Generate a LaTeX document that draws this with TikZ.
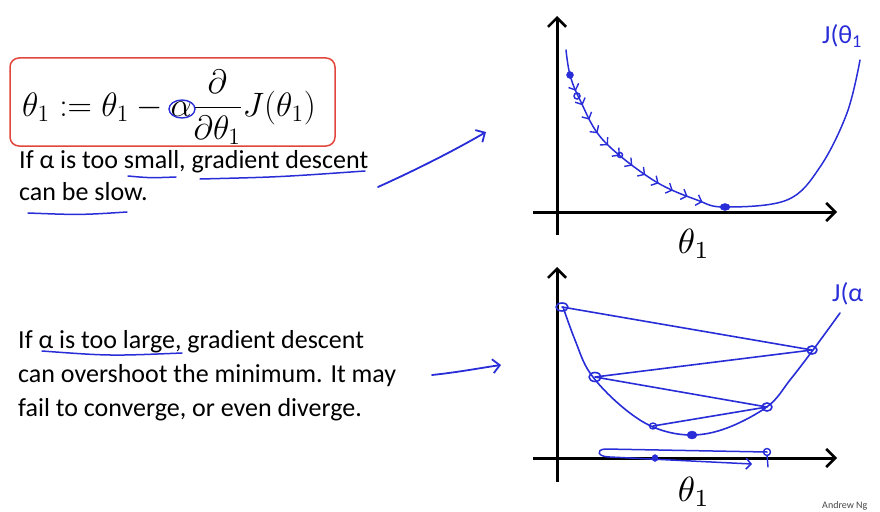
\documentclass[tikz,border=0pt]{standalone}
\usepackage{amsmath}
\usepackage{fontspec}
\setmainfont{Carlito}
\usetikzlibrary{arrows.meta,decorations.markings}
\definecolor{hand}{RGB}{40,45,215}
\definecolor{boxred}{RGB}{225,70,60}
\definecolor{credit}{RGB}{70,70,70}
\tikzset{
  handline/.style={draw=hand,line width=1.8pt,line cap=round,line join=round},
  axisline/.style={draw=black,line width=3pt,-{Straight Barb[length=9pt,width=18pt,line width=2.6pt]}},
  bodytext/.style={anchor=base west,inner sep=0pt,font=\fontsize{26}{30}\selectfont},
  handtext/.style={anchor=west,inner sep=0pt,text=hand,font=\fontsize{26}{30}\selectfont},
  barb/.style={-{Straight Barb[length=7pt,width=14pt,line width=1.8pt]}},
  stepmarks/.style={decoration={markings,
      mark=between positions 0.08 and 0.96 step 0.075 with {\arrow[hand,line width=1.4pt]{Straight Barb[length=5pt,width=11pt]}}},
      postaction={decorate}},
  dot/.style={fill=hand,draw=hand},
  axlabel/.style={inner sep=0pt,scale=3.5}
}
\begin{document}
\begin{tikzpicture}[x=1pt,y=-1pt]
\useasboundingbox (0,0) rectangle (880,511);
% ---------- formula box ----------
\draw[boxred,line width=1.5pt,rounded corners=9pt] (10,58) rectangle (335,146);
\node[inner sep=0pt,scale=1.63] (formula) at (169,107)
  {\fontsize{21}{25}\selectfont$\displaystyle \theta_1 := \theta_1 - \alpha\frac{\partial}{\partial\theta_1}J(\theta_1)$};
\draw[handline,line width=1.4pt] (182,109) ellipse [x radius=13, y radius=9];
% ---------- texts ----------
\node[bodytext] (t1) at (19,168) {If α is too small, gradient descent};
\node[bodytext] (t2) at (19,200) {can be slow.};
\node[bodytext] (t3) at (18,348) {If α is too large, gradient descent};
\node[bodytext] (t4) at (18,382) {can overshoot the minimum. It may};
\node[bodytext] (t5) at (18,416) {fail to converge, or even diverge.};
% underlines
\draw[handline,line width=1.5pt] (128,176) .. controls (150,178) .. (176,177);
\draw[handline,line width=1.5pt] (200,179) .. controls (280,177) .. (365,171);
\draw[handline,line width=1.5pt] (28,213) .. controls (80,215) .. (127,212);
\draw[handline,line width=1.5pt] (42,351) .. controls (110,356) .. (182,353);
% pointer arrows
\coordinate (a1s) at (378,187);
\coordinate (a1e) at (486,132);
\draw[handline,barb] (a1s) .. controls (420,168) and (455,150) .. (a1e);
\coordinate (a2s) at (432,375);
\coordinate (a2e) at (501,365);
\draw[handline,barb] (a2s) .. controls (460,372) and (480,368) .. (a2e);
% ---------- top graph ----------
\draw[axisline] (557,235) -- (557,16);
\draw[axisline] (533,212) -- (837,212);
\node[axlabel] (th1) at (694,244) {$\theta_1$};
\draw[handline,line width=1.5pt] plot[smooth,tension=0.6] coordinates
  {(566,50) (570,75) (580,100) (603,140) (653,180) (697,200) (725,207) (787,200) (820,167) (847,113) (860,60)};
\path[stepmarks] plot[smooth,tension=0.6] coordinates
  {(570,75) (580,100) (603,140) (653,180) (697,200) (722,207)};
\fill[dot] (570,75) circle (3.5);
\draw[hand,line width=1.5pt] (577,96) circle (3);
\draw[hand,line width=1.5pt] (620,155) circle (2.5);
\fill[dot] (725,207) ellipse [x radius=5, y radius=3.5];
\node[handtext] (j1) at (822,36) {J(θ\textsubscript{1}};
% ---------- bottom graph ----------
\draw[axisline] (557,482) -- (557,267);
\draw[axisline] (533,458) -- (837,458);
\node[axlabel] (th2) at (694,492) {$\theta_1$};
\draw[handline,line width=1.6pt] plot[smooth,tension=0.6] coordinates
  {(563,307) (575,340) (590,373) (620,405) (653,427) (690,435) (727,428) (768,406) (790,380) (813,350) (840,313)};
\coordinate (p1) at (562,307);
\coordinate (p2) at (812,350);
\coordinate (p3) at (595,377);
\coordinate (p4) at (767,407);
\coordinate (p5) at (653,426);
\coordinate (p6) at (692,435);
\draw[handline,line width=1.6pt] (p1) -- (p2) -- (p3) -- (p4) -- (p5);
\draw[handline,line width=1.6pt] (p1) ellipse [x radius=6, y radius=4];
\draw[handline,line width=1.6pt] (p2) ellipse [x radius=5, y radius=4];
\draw[handline,line width=1.6pt] (p3) ellipse [x radius=6, y radius=4.5];
\draw[handline,line width=1.6pt] (p4) ellipse [x radius=5, y radius=4];
\draw[handline,line width=1.4pt] (p5) ellipse [x radius=3.5, y radius=3];
\fill[dot] (p6) ellipse [x radius=5, y radius=4];
% overshoot arrow near the axis
\coordinate (q1) at (767,452);
\coordinate (q2) at (752,464);
\draw[handline,line width=1.5pt,-{Straight Barb[length=5pt,width=11pt,line width=1.5pt]}]
  (q1) -- (605,449) .. controls (595,450) and (598,457) .. (610,457) -- (q2);
\draw[handline,line width=1.4pt] (q1) circle (3.5);
\draw[handline,line width=1.4pt] (767,455) -- (768,467);
\fill[dot] (655,458) ellipse [x radius=3, y radius=3.5];
\node[handtext] (j2) at (832,294) {J(α};
% credit
\node[anchor=base west,inner sep=0pt,text=credit,font=\fontsize{10}{12}\selectfont] (cr) at (822,508) {Andrew Ng};
\end{tikzpicture}
\end{document}
